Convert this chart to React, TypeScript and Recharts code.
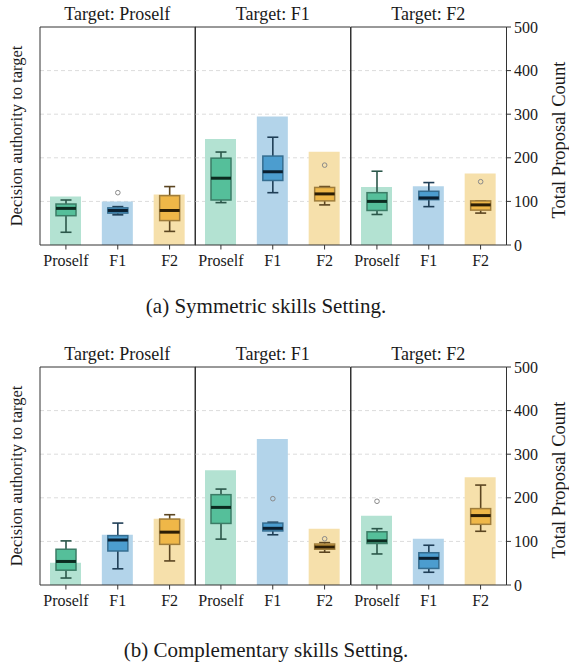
import React from 'react';
import { ComposedChart, Bar, Cell, XAxis, YAxis, CartesianGrid } from 'recharts';

const agents = ['Proself', 'F1', 'F2'];
const targets = ['Proself', 'F1', 'F2'];
const countTicks = [0, 100, 200, 300, 400, 500];
const gridValues = [100, 200, 300, 400];
const authorityTicks = [0, 0.25, 0.5, 0.75, 1];

// total proposal count per agent (Proself, F1, F2), one array per target
const symCountsProself = [111, 100, 116];
const symCountsF1 = [243, 295, 214];
const symCountsF2 = [133, 135, 164];
const compCountsProself = [51, 115, 152];
const compCountsF1 = [263, 335, 129];
const compCountsF2 = [159, 106, 247];

// decision authority boxes: [low whisker, q1, median, q3, high whisker]
const symBoxProself = [
  [0.073, 0.168, 0.21, 0.235, 0.258],
  [0.173, 0.183, 0.198, 0.213, 0.22],
  [0.078, 0.14, 0.198, 0.283, 0.335],
];
const symBoxF1 = [
  [0.243, 0.258, 0.383, 0.498, 0.533],
  [0.3, 0.37, 0.42, 0.51, 0.618],
  [0.23, 0.253, 0.293, 0.33, 0.335],
];
const symBoxF2 = [
  [0.175, 0.198, 0.25, 0.3, 0.423],
  [0.22, 0.26, 0.27, 0.308, 0.358],
  [0.183, 0.2, 0.23, 0.253, 0.253],
];
const compBoxProself = [
  [0.04, 0.085, 0.135, 0.205, 0.253],
  [0.093, 0.195, 0.258, 0.283, 0.355],
  [0.138, 0.233, 0.303, 0.378, 0.403],
];
const compBoxF1 = [
  [0.263, 0.353, 0.445, 0.518, 0.55],
  [0.288, 0.31, 0.325, 0.355, 0.36],
  [0.188, 0.205, 0.218, 0.235, 0.243],
];
const compBoxF2 = [
  [0.178, 0.238, 0.253, 0.305, 0.323],
  [0.073, 0.095, 0.153, 0.185, 0.228],
  [0.308, 0.348, 0.398, 0.438, 0.573],
];

// outliers per agent
const symOutProself = [[], [0.3], []];
const symOutF1 = [[], [], [0.458]];
const symOutF2 = [[], [], [0.363]];
const compOutProself = [[], [], []];
const compOutF1 = [[], [0.495], [0.265]];
const compOutF2 = [[0.48], [], []];

const barFill = ['#b3e2d2', '#b3d4ea', '#f6e0ab'];
const boxFill = ['#55bf9a', '#4c9dcf', '#efb748'];
const boxEdge = ['#3b7c66', '#356d90', '#9f7d3c'];
const whiskerColor = ['#2b574a', '#1f3e56', '#5b4521'];
const medianColor = ['#0b2b20', '#0a1f30', '#2b1d05'];

const FONT = '"Liberation Serif", "Times New Roman", serif';
const plotLefts = [39.5, 195, 350.5];
const plotW = 155.5;
const plotH = 218;
const rowTops = [27, 367];
const captionY = [313, 657];

const BoxShape = (props: any) => {
  const { x, y, width, height, payload } = props;
  const i = agents.indexOf(payload.agent);
  const [low, q1, med, q3, high] = payload.box;
  const yLow = y + height;
  const yHigh = y;
  const py = (v: number) => yLow + ((v - low) / (high - low)) * (yHigh - yLow);
  const cx = x + width / 2;
  const cap = 5.5;
  return (
    <g>
      <line x1={cx} x2={cx} y1={py(low)} y2={py(q1)} stroke={whiskerColor[i]} strokeWidth={1.6} />
      <line x1={cx} x2={cx} y1={py(q3)} y2={py(high)} stroke={whiskerColor[i]} strokeWidth={1.6} />
      <line x1={cx - cap} x2={cx + cap} y1={py(low)} y2={py(low)} stroke={whiskerColor[i]} strokeWidth={1.6} />
      <line x1={cx - cap} x2={cx + cap} y1={py(high)} y2={py(high)} stroke={whiskerColor[i]} strokeWidth={1.6} />
      <rect x={x} y={py(q3)} width={width} height={py(q1) - py(q3)} fill={boxFill[i]} stroke={boxEdge[i]} strokeWidth={1.5} />
      <line x1={x} x2={x + width} y1={py(med)} y2={py(med)} stroke={medianColor[i]} strokeWidth={3} />
      {payload.outliers.map((o: number, k: number) => (
        <circle key={k} cx={cx} cy={py(o)} r={2.3} fill="none" stroke="#8a8a8a" strokeWidth={1} />
      ))}
    </g>
  );
};

function Panel({ counts, boxes, outliers, col, row }: any) {
  const data = agents.map((agent, i) => ({
    agent,
    count: counts[i],
    box: boxes[i],
    outliers: outliers[i],
  }));
  const last = col === 2;
  const marginTop = 9;
  const marginLeft = 25;
  const leftW = 5;
  const rightW = last ? 45 : 1;
  const marginRight = last ? 0 : 10;
  const axisH = 40;
  const width = marginLeft + leftW + plotW + rightW + marginRight;
  const height = marginTop + 1 + plotH + axisH;
  return (
    <div style={{ position: 'absolute', left: plotLefts[col] - marginLeft - leftW, top: rowTops[row] - marginTop - 1 }}>
      <ComposedChart
        width={width}
        height={height}
        data={data}
        margin={{ top: marginTop, left: marginLeft, right: marginRight, bottom: 0 }}
      >
        <CartesianGrid
          xAxisId="main"
          yAxisId="right"
          vertical={false}
          horizontalValues={gridValues}
          stroke="#dcdcdc"
          strokeDasharray="4 3"
        />
        <XAxis
          xAxisId="main"
          dataKey="agent"
          height={axisH}
          interval={0}
          tickSize={4.5}
          tickMargin={5}
          stroke="#333"
          tick={{ fontSize: 16, fill: '#1a1a1a', fontFamily: FONT }}
        />
        <XAxis xAxisId="box" dataKey="agent" height={0} hide />
        <XAxis xAxisId="top" dataKey="agent" orientation="top" height={1} tick={false} tickLine={false} stroke="#333" />
        <YAxis
          yAxisId="left"
          domain={[0, 1.25]}
          ticks={authorityTicks}
          width={leftW}
          tick={false}
          tickSize={4.5}
          stroke="#333"
        />
        <YAxis
          yAxisId="right"
          orientation="right"
          domain={[0, 500]}
          ticks={countTicks}
          width={rightW}
          tick={{ fontSize: 16, fill: '#1a1a1a', fontFamily: FONT }}
          tickFormatter={(v: number) => (last ? String(v) : '')}
          tickLine={last}
          tickSize={4.5}
          tickMargin={3}
          stroke="#333"
        />
        <Bar xAxisId="main" yAxisId="right" dataKey="count" barSize={31} isAnimationActive={false}>
          {data.map((d, i) => (
            <Cell key={d.agent} fill={barFill[i]} />
          ))}
        </Bar>
        <Bar
          xAxisId="box"
          yAxisId="left"
          dataKey={(d: any) => [d.box[0], d.box[4]]}
          barSize={20}
          shape={BoxShape}
          isAnimationActive={false}
        />
      </ComposedChart>
    </div>
  );
}

const rowsData = [
  {
    counts: [symCountsProself, symCountsF1, symCountsF2],
    boxes: [symBoxProself, symBoxF1, symBoxF2],
    outliers: [symOutProself, symOutF1, symOutF2],
    caption: '(a) Symmetric skills Setting.',
  },
  {
    counts: [compCountsProself, compCountsF1, compCountsF2],
    boxes: [compBoxProself, compBoxF1, compBoxF2],
    outliers: [compOutProself, compOutF1, compOutF2],
    caption: '(b) Complementary skills Setting.',
  },
];

export default function App() {
  return (
    <div style={{ position: 'absolute', left: 0, top: 0, width: 569, height: 664, background: '#fff', fontFamily: FONT }}>
      {rowsData.map((r, row) =>
        targets.map((t, col) => (
          <Panel key={`${row}-${col}`} counts={r.counts[col]} boxes={r.boxes[col]} outliers={r.outliers[col]} col={col} row={row} />
        ))
      )}
      <svg width={569} height={664} style={{ position: 'absolute', left: 0, top: 0, pointerEvents: 'none' }}>
        {rowsData.map((r, row) => {
          const top = rowTops[row];
          const cy = top + plotH / 2;
          return (
            <g key={row} fontFamily={FONT} fill="#1a1a1a">
              {targets.map((t, col) => (
                <text key={t} x={plotLefts[col] + plotW / 2} y={top - 7.5} textAnchor="middle" fontSize={18}>
                  {`Target: ${t}`}
                </text>
              ))}
              <text x={16} y={cy} transform={`rotate(-90 16 ${cy})`} textAnchor="middle" dominantBaseline="central" fontSize={16.5}>
                Decision authority to target
              </text>
              <text x={559} y={cy + 4} transform={`rotate(-90 559 ${cy + 4})`} textAnchor="middle" dominantBaseline="central" fontSize={18.5}>
                Total Proposal Count
              </text>
              <text x={266} y={captionY[row]} textAnchor="middle" fontSize={21}>
                {r.caption}
              </text>
            </g>
          );
        })}
      </svg>
    </div>
  );
}
